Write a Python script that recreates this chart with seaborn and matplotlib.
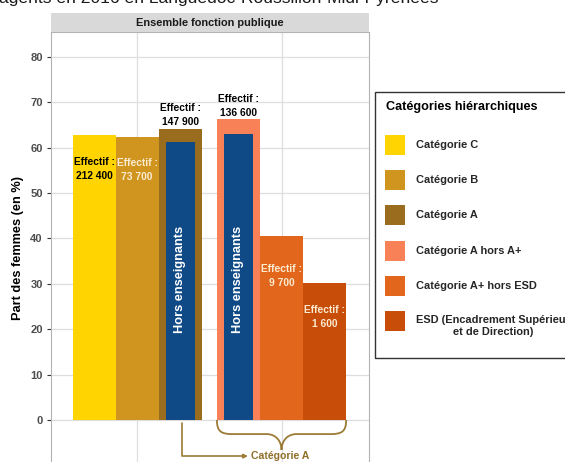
import matplotlib
matplotlib.use("Agg")
import matplotlib.pyplot as plt
import seaborn as sns
import pandas as pd
from matplotlib.patches import Rectangle, PathPatch
from matplotlib.path import Path

# Data
categories = ["Catégorie C", "Catégorie B", "Catégorie A", "Catégorie A hors A+",
              "Catégorie A+ hors ESD", "ESD (Encadrement Supérieur\net de Direction)"]
part_femmes = [62.8, 62.3, 64.1, 66.2, 40.5, 30.1]
effectifs = ["212 400", "73 700", "147 900", "136 600", "9 700", "1 600"]
hors_ens_cats = ["Catégorie A", "Catégorie A hors A+"]
hors_ens_part = [61.2, 63.0]
cat_colors = ["#FFD400", "#D0951F", "#9A6C1D", "#F88158", "#E2661B", "#C84D08"]
blue = "#0F4A87"
brown = "#9B7B36"

# Layout
W, H = 565, 462
bar_pos = [1, 2, 3, 4.35, 5.35, 6.35]
label_y = [55.3, 55.0, 67.1, 69.2, 31.8, 22.7]
label_col = ["black", "#FBEBD0", "black", "black", "#FBEBD0", "#FBEBD0"]

def fx(x):
    return x / W

def fy(y):
    return 1 - y / H

sns.set_theme(style="whitegrid")
plt.rcParams["font.family"] = ["Liberation Sans", "DejaVu Sans"]

fig = plt.figure(figsize=(W / 100, H / 100), dpi=100)
ax = fig.add_axes([fx(51), 0, (369 - 51) / W, (462 - 32) / H])

df = pd.DataFrame({"pos": bar_pos, "part": part_femmes, "cat": categories})
sns.barplot(data=df, x="pos", y="part", hue="cat", hue_order=categories,
            palette=dict(zip(categories, cat_colors)), native_scale=True,
            dodge=False, width=1, errorbar=None, saturation=1, legend=False,
            linewidth=0, ax=ax)

# "Hors enseignants" inner bars
pos_map = dict(zip(categories, bar_pos))
hx = [pos_map[c] for c in hors_ens_cats]
ax.bar(hx, hors_ens_part, width=0.67, color=blue, linewidth=0, zorder=3)
for x in hx:
    ax.text(x, 31, "Hors enseignants", rotation=90, ha="center", va="center",
            color="white", fontsize=9.2, fontweight="bold", zorder=4)

for x, e, y, c in zip(bar_pos, effectifs, label_y, label_col):
    ax.text(x, y, f"Effectif :\n{e}", ha="center", va="center", fontsize=7.4,
            fontweight="bold", color=c, linespacing=1.5, zorder=4)

ax.set_xlim(0, 7.38)
ax.set_ylim(-9.25, 85.45)
ax.set_yticks(range(0, 81, 10))
ax.set_xticks([2, 5.35])
ax.set_xticklabels([])
ax.set_xlabel("")
ax.set_ylabel("")
ax.tick_params(axis="x", length=0)
ax.tick_params(axis="y", left=True, length=3, width=0.8, color="#333333", pad=3,
               labelsize=8, labelcolor="#4D4D4D")
for lbl in ax.get_yticklabels():
    lbl.set_fontweight("bold")
ax.grid(True, color="#DEDEDE", linewidth=0.9)
for side in ["left", "right", "top"]:
    ax.spines[side].set_color("#B3B3B3")
    ax.spines[side].set_linewidth(0.8)
ax.spines["bottom"].set_visible(False)

# curly brace under the Catégorie A detail bars
x0, x1, xm = 3.85, 6.85, 5.35
yb, yt = -3.1, -6.6
verts = [(x0, 0), (x0, -2.5), (x0 + 0.1, yb), (x0 + 0.35, yb),
         (xm - 0.35, yb),
         (xm - 0.1, yb), (xm, yt + 1.6), (xm, yt),
         (xm, yt + 1.6), (xm + 0.1, yb), (xm + 0.35, yb),
         (x1 - 0.35, yb),
         (x1 - 0.1, yb), (x1, -2.5), (x1, 0)]
codes = [Path.MOVETO, Path.CURVE4, Path.CURVE4, Path.CURVE4,
         Path.LINETO,
         Path.CURVE4, Path.CURVE4, Path.CURVE4,
         Path.CURVE4, Path.CURVE4, Path.CURVE4,
         Path.LINETO,
         Path.CURVE4, Path.CURVE4, Path.CURVE4]
ax.add_patch(PathPatch(Path(verts, codes), facecolor="none", edgecolor=brown,
                       linewidth=1.3, clip_on=False))

ax.annotate("", xy=(4.57, -7.95), xytext=(3.03, -0.6),
            arrowprops=dict(arrowstyle="-|>", color=brown, lw=1.2,
                            mutation_scale=6, shrinkA=0, shrinkB=0,
                            connectionstyle="angle,angleA=90,angleB=0,rad=0"),
            annotation_clip=False)
ax.text(4.65, -7.95, "Catégorie A", ha="left", va="center", fontsize=7.6,
        fontweight="bold", color="#8F6F2A")

# y label
fig.text(fx(18), fy(248), "Part des femmes (en %)", rotation=90, ha="center",
         va="center", fontsize=9.2, fontweight="bold", color="black")

# facet strip
fig.patches.append(Rectangle((fx(51), fy(32)), 318 / W, 19 / H,
                             transform=fig.transFigure, facecolor="#D9D9D9",
                             edgecolor="none"))
fig.text(fx(210), fy(22.5), "Ensemble fonction publique", ha="center",
         va="center", fontsize=7.9, fontweight="bold", color="#1A1A1A")

# title, cropped at top
fig.text(fx(-1), fy(2.5), "agents en 2016 en Languedoc-Roussillon-Midi-Pyrénées",
         ha="left", va="baseline", fontsize=12.6, color="#1A1A1A")

# legend
fig.patches.append(Rectangle((fx(375), fy(358)), 200 / W, 266 / H,
                             transform=fig.transFigure, fill=False,
                             edgecolor="#333333", linewidth=1.0))
fig.text(fx(386), fy(107), "Catégories hiérarchiques", ha="left", va="center",
         fontsize=9.1, fontweight="bold", color="black")
for i, (cat, col) in enumerate(zip(categories, cat_colors)):
    yc = 145 + 35.2 * i
    fig.patches.append(Rectangle((fx(385), fy(yc + 10)), 20 / W, 20 / H,
                                 transform=fig.transFigure, facecolor=col,
                                 edgecolor="none"))
    if "\n" in cat:
        fig.text(fx(416), fy(yc - 6), cat, ha="left", va="top", fontsize=7.9,
                 fontweight="bold", multialignment="center", linespacing=1.3)
    else:
        fig.text(fx(416), fy(yc), cat, ha="left", va="center", fontsize=7.9,
                 fontweight="bold")

fig.savefig("out.png", dpi=100)
